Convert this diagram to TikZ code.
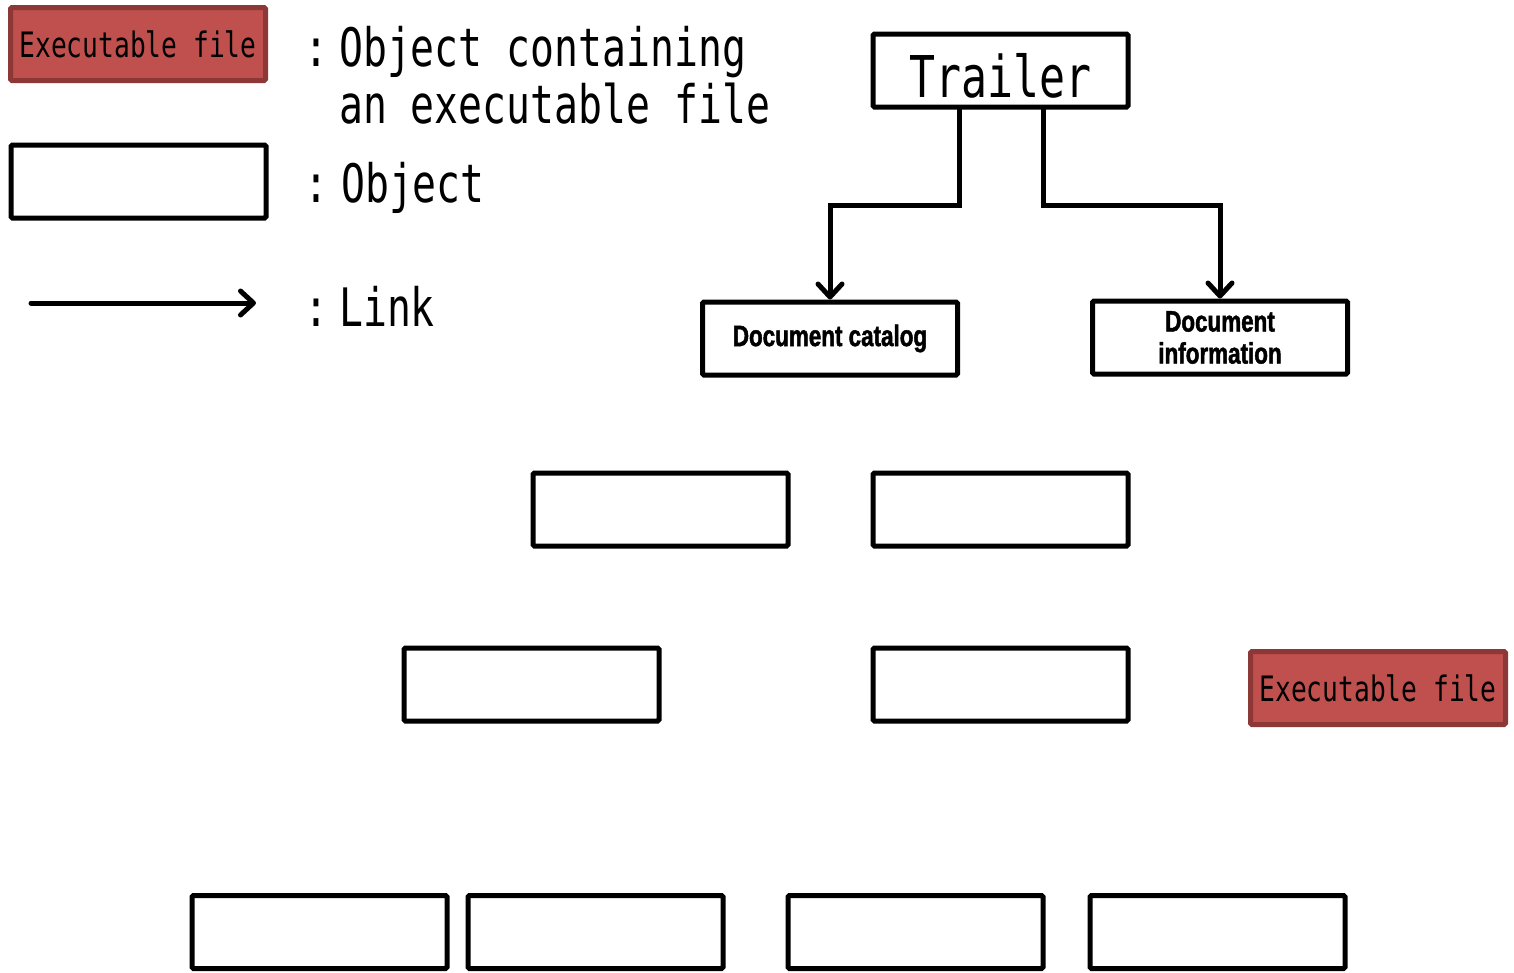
\documentclass[tikz,border=0pt]{standalone}
\usepackage{fontspec}
\usetikzlibrary{arrows.meta,calc}
\newfontfamily\monofont[FakeStretch=0.75]{DejaVu Sans Mono}
\newfontfamily\heavyfont[FakeStretch=0.76,FakeBold=1.6]{Liberation Sans Bold}
\definecolor{exefill}{HTML}{C0504D}
\definecolor{exeedge}{HTML}{8C3836}
\tikzset{
  obj/.style={draw, line width=5pt, minimum width=255pt, minimum height=73pt,
    inner sep=0pt, rounded corners=1.5pt, fill=white},
  exe/.style={obj, draw=exeedge, fill=exefill,
    font=\monofont\fontsize{35}{40}\selectfont},
  lbl/.style={inner sep=0pt, font=\monofont\fontsize{53}{58}\selectfont},
  bold/.style={align=center, font=\heavyfont\fontsize{29.5}{33}\selectfont},
  linkarrow/.style={line width=5pt, line cap=round,
    -{Straight Barb[length=13pt,width=24pt,line width=5pt,round]}},
}
\begin{document}
\begin{tikzpicture}[x=1pt, y=-1pt]
\useasboundingbox (0,0) rectangle (1514,972);

% legend
\node[exe] (legexe) at (138,44) {Executable file};
\node[obj] (legobj) at (138.5,181.5) {};
\coordinate (lnkA) at (31,303);
\coordinate (lnkB) at (256,303);
\draw[linkarrow] (lnkA) -- (lnkB);

\node[lbl, anchor=base] (c1) at (316,66) {:};
\node[lbl, anchor=base west] (t1) at (339,66) {Object containing};
\node[lbl, anchor=base west] (t2) at (339,123) {an executable file};
\node[lbl, anchor=base] (c2) at (316,202) {:};
\node[lbl, anchor=base west] (t3) at (341,202) {Object};
\node[lbl, anchor=base] (c3) at (316,326) {:};
\node[lbl, anchor=base west] (t4) at (339,326) {Link};

% tree
\node[obj] (trailer) at (1000.5,70.5) {};
\node[lbl, anchor=base, font=\monofont\fontsize{57.6}{62}\selectfont] (trailertxt) at (1000.5,97) {Trailer};
\node[obj, bold] (catalog) at (830,338.5) {Document catalog};
\node[obj, bold] (info) at (1220,337.5) {Document\\[-1pt]information};

\draw[linkarrow] ($(trailer.south)+(-41.5,0)$) -- ++(0,96) -| (catalog.north);
\draw[linkarrow] ($(trailer.south)+(42.5,0)$) -- ++(0,96) -| (info.north);

% unnamed objects
\node[obj] (o1) at (660.5,509.5) {};
\node[obj] (o2) at (1000.5,509.5) {};
\node[obj] (o3) at (531.5,684.5) {};
\node[obj] (o4) at (1000.5,684.5) {};
\node[exe] (exe2) at (1378,688) {Executable file};
\node[obj] (o5) at (319.5,932) {};
\node[obj] (o6) at (595.5,932) {};
\node[obj] (o7) at (915.5,932) {};
\node[obj] (o8) at (1217.5,932) {};
\end{tikzpicture}
\end{document}
